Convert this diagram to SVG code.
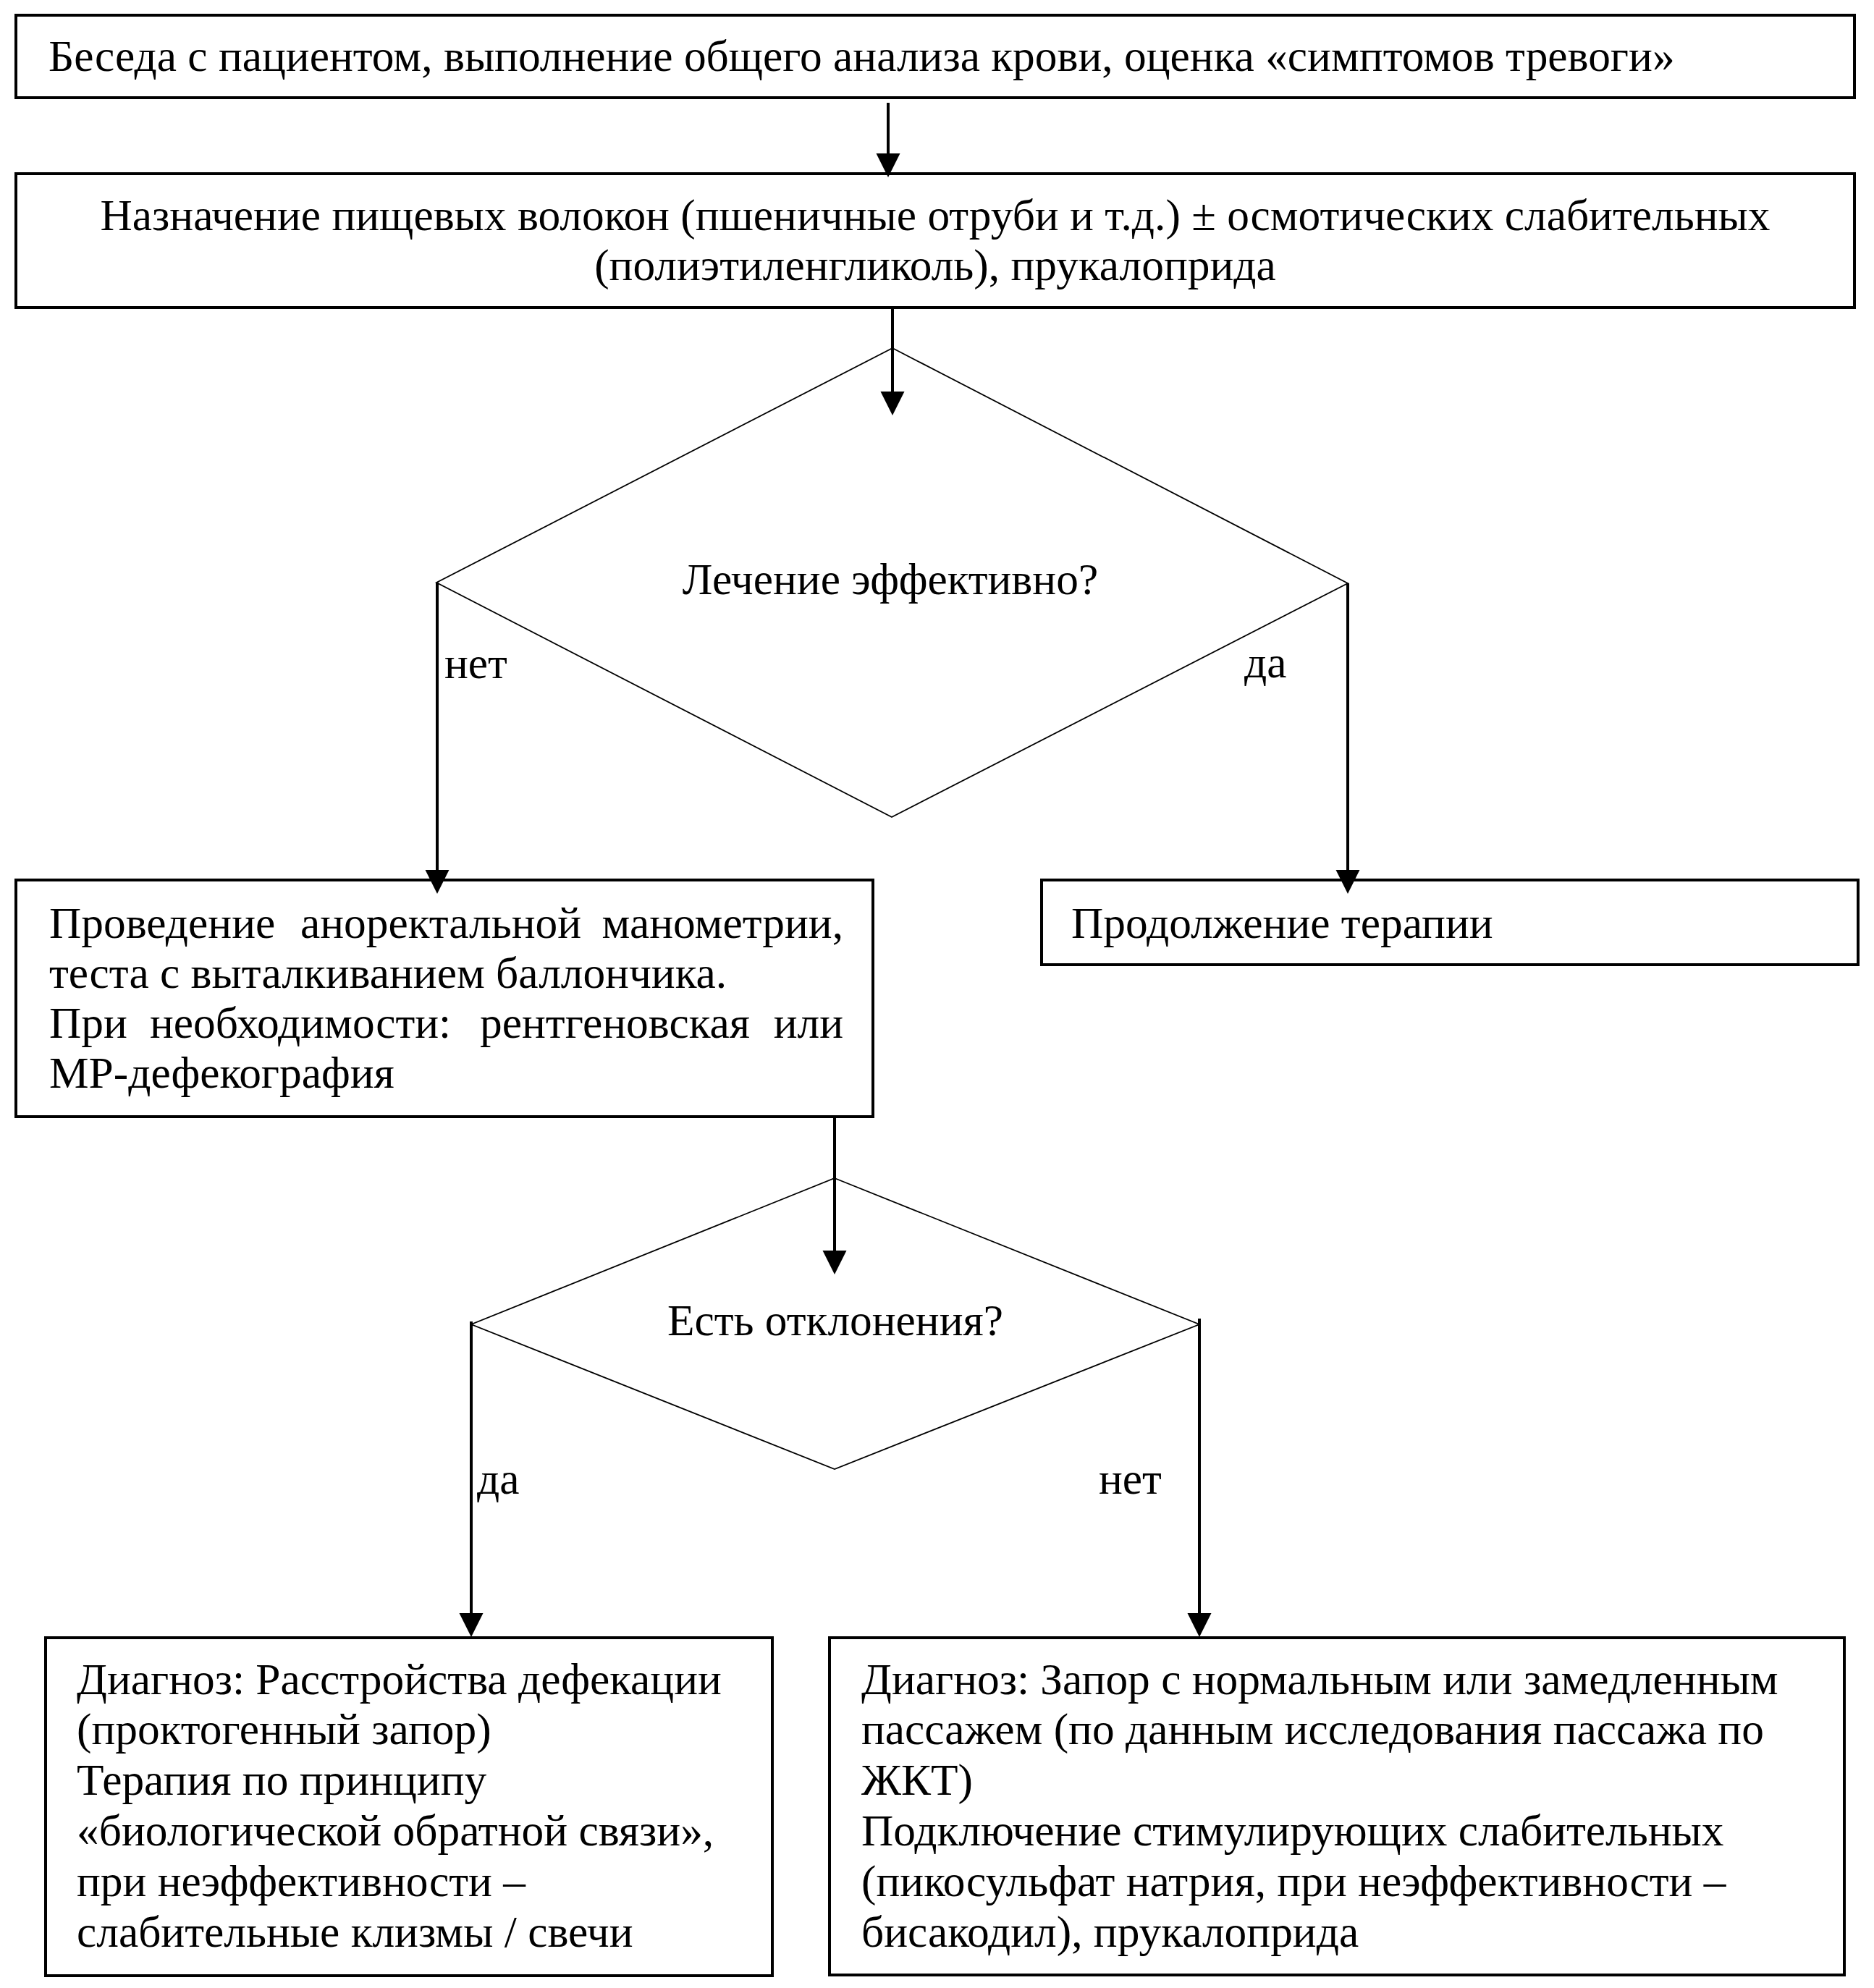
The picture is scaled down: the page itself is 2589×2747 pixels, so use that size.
<svg xmlns="http://www.w3.org/2000/svg" width="2589" height="2747" viewBox="0 0 2589 2747">
<style>
.box{fill:#fff;stroke:#000;stroke-width:4}
.dia{fill:none;stroke:#000;stroke-width:1.8}
.con{fill:none;stroke:#000;stroke-width:4}
text{font-family:"Liberation Serif","Times New Roman",serif;font-size:61.4px;fill:#000}
.c{text-anchor:middle}
.e{text-anchor:end}
</style>
<defs>
<marker id="ah" markerUnits="userSpaceOnUse" markerWidth="34" markerHeight="34" refX="22" refY="16.5" orient="auto">
<path d="M0,0 L33,16.5 L0,33 z" fill="#000"/>
</marker>
</defs>
<rect width="2589" height="2747" fill="#fff"/>
<g id="n1"><rect class="box" x="22" y="21" width="2540" height="114"/>
<text x="67" y="98">Беседа с пациентом, выполнение общего анализа крови, оценка «симптомов тревоги»</text></g>
<g id="n2"><rect class="box" x="22" y="240" width="2540" height="185"/>
<text class="c" x="1292" y="318">Назначение пищевых волокон (пшеничные отруби и т.д.) ± осмотических слабительных</text>
<text class="c" x="1292" y="387">(полиэтиленгликоль), прукалоприда</text></g>
<g id="d1"><polygon class="dia" points="1233,481 1862,806 1232,1129 603,805"/>
<text class="c" x="1230" y="821">Лечение эффективно?</text></g>
<g id="n3"><rect class="box" x="22" y="1216" width="1184" height="327"/>
<text y="1296"><tspan x="68">Проведение</tspan><tspan x="415">аноректальной</tspan><tspan x="1165" text-anchor="end">манометрии,</tspan></text>
<text x="68" y="1365">теста с выталкиванием баллончика.</text>
<text y="1434"><tspan x="68">При</tspan><tspan x="207">необходимости:</tspan><tspan x="663">рентгеновская</tspan><tspan x="1165" text-anchor="end">или</tspan></text>
<text x="68" y="1503">МР-дефекография</text></g>
<g id="n4"><rect class="box" x="1439" y="1216" width="1128" height="117"/>
<text x="1480" y="1296">Продолжение терапии</text></g>
<g id="d2"><polygon class="dia" points="1153,1628 1657,1830 1153,2030 651,1830"/>
<text class="c" x="1154" y="1845">Есть отклонения?</text></g>
<g id="n5"><rect class="box" x="63" y="2263" width="1004" height="467"/>
<text x="106" y="2341">Диагноз: Расстройства дефекации</text>
<text x="106" y="2410">(проктогенный запор)</text>
<text x="106" y="2480">Терапия по принципу</text>
<text x="106" y="2550">«биологической обратной связи»,</text>
<text x="106" y="2620">при неэффективности –</text>
<text x="106" y="2690">слабительные клизмы / свечи</text></g>
<g id="n6"><rect class="box" x="1146" y="2263" width="1402" height="466"/>
<text x="1190" y="2341">Диагноз: Запор с нормальным или замедленным</text>
<text x="1190" y="2410">пассажем (по данным исследования пассажа по</text>
<text x="1190" y="2480">ЖКТ)</text>
<text x="1190" y="2550">Подключение стимулирующих слабительных</text>
<text x="1190" y="2620">(пикосульфат натрия, при неэффективности –</text>
<text x="1190" y="2690">бисакодил), прукалоприда</text></g>
<g id="connectors">
<line class="con" x1="1227" y1="142" x2="1227" y2="234" marker-end="url(#ah)"/>
<line class="con" x1="1233" y1="425" x2="1233" y2="563" marker-end="url(#ah)"/>
<line class="con" x1="604" y1="805" x2="604" y2="1224" marker-end="url(#ah)"/>
<line class="con" x1="1862" y1="806" x2="1862" y2="1224" marker-end="url(#ah)"/>
<line class="con" x1="1153" y1="1543" x2="1153" y2="1750" marker-end="url(#ah)"/>
<line class="con" x1="651" y1="1826" x2="651" y2="2251" marker-end="url(#ah)"/>
<line class="con" x1="1657" y1="1822" x2="1657" y2="2251" marker-end="url(#ah)"/>
<text x="614" y="937">нет</text>
<text x="1719" y="936">да</text>
<text x="659" y="2064">да</text>
<text x="1518" y="2064">нет</text>
</g>
</svg>
